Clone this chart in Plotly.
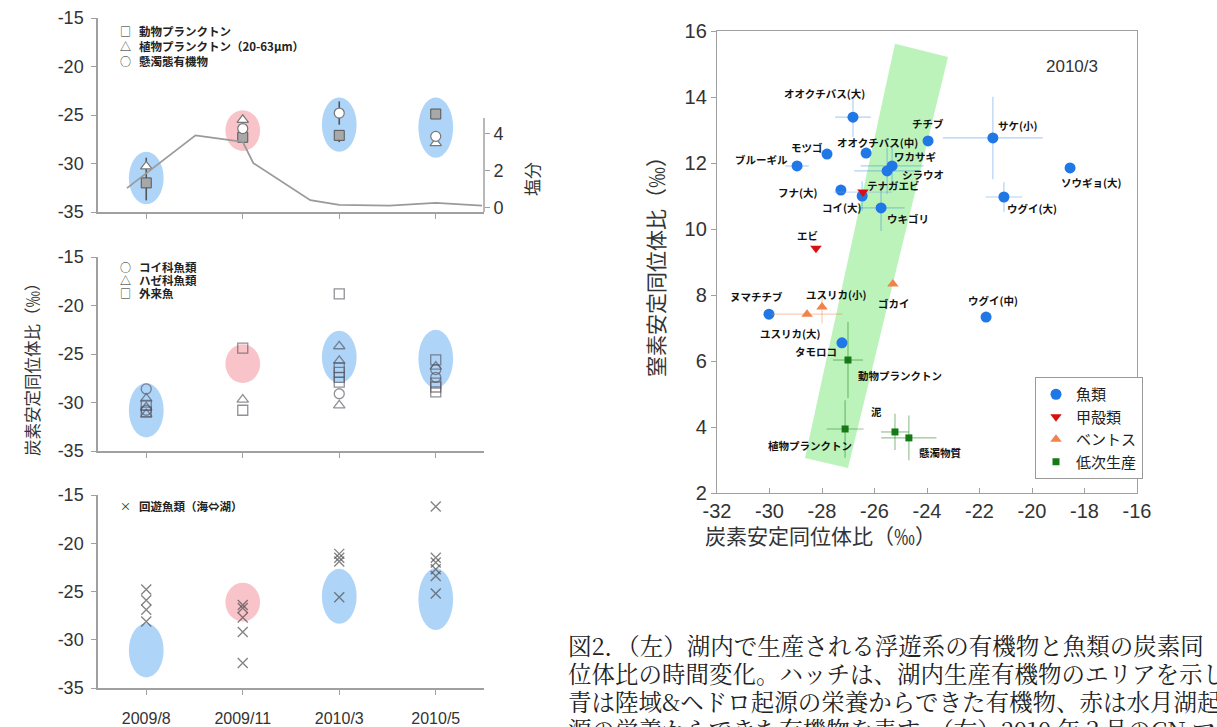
import plotly.graph_objects as go

W, H = 1217, 727

# ---------------- data: left panels (time series of carbon isotope) ----------------
months = ["2009/8", "2009/11", "2010/3", "2010/5"]

zoo_month = ["2009/8", "2009/11", "2010/3", "2010/5"]
zoo_val = [-32.0, -27.3, -27.1, -24.9]
zoo_err_up = [2.6, 0.0, 0.0, 0.0]
zoo_err_down = [1.8, 0.0, 0.7, 0.0]

phyto_month = ["2009/8", "2009/11", "2010/5"]
phyto_val = [-30.3, -25.5, -27.9]

pom_month = ["2009/11", "2010/3", "2010/5"]
pom_val = [-26.4, -24.8, -27.2]
pom_err = [0.0, 1.2, 0.0]

sal_time = [0.80, 1.51, 2.00, 2.11, 2.70, 3.00, 3.52, 4.00, 4.48]
sal_val = [1.05, 3.9, 3.55, 2.4, 0.4, 0.15, 0.1, 0.25, 0.1]

cyp_month = ["2009/8", "2009/8", "2010/3", "2010/5", "2010/5"]
cyp_val = [-28.6, -30.8, -29.1, -26.6, -27.4]
goby_month = ["2009/8", "2009/8", "2009/8", "2009/11", "2010/3", "2010/3", "2010/3", "2010/5"]
goby_val = [-29.6, -30.5, -31.2, -29.7, -24.2, -25.7, -30.3, -26.3]
alien_month = ["2009/8", "2009/8", "2009/11", "2009/11", "2010/3", "2010/3", "2010/3",
               "2010/3", "2010/3", "2010/5", "2010/5", "2010/5", "2010/5"]
alien_val = [-30.3, -31.0, -24.4, -30.8, -18.8, -26.4, -26.9, -27.4, -27.9, -25.6, -28.0, -28.4, -28.9]

mig_month = ["2009/8"] * 4 + ["2009/11"] * 5 + ["2010/3"] * 4 + ["2010/5"] * 6
mig_val = [-24.8, -25.9, -26.9, -28.1,
           -26.4, -26.7, -27.7, -29.2, -32.4,
           -21.1, -21.5, -21.9, -25.6,
           -16.2, -21.5, -22.0, -22.7, -23.4, -25.2]

hatch_kind = ["land", "lake", "land", "land"]
hatch_top_center = [-31.5, -26.6, -26.0, -26.3]
hatch_top_half = [2.7, 2.1, 2.8, 3.1]
hatch_mid_center = [-30.8, -26.0, -25.3, -25.5]
hatch_mid_half = [2.8, 2.0, 2.7, 3.0]
hatch_bot_center = [-31.1, -26.1, -25.5, -25.8]
hatch_bot_half = [2.8, 2.0, 2.85, 3.2]

left_ticks = [-35, -30, -25, -20, -15]
sal_ticks = [0, 2, 4]

# ---------------- data: right panel (CN map 2010/3) ----------------
fish_name = ["オオクチバス(大)", "モツゴ", "オオクチバス(中)", "ブルーギル", "チチブ", "サケ(小)",
             "ワカサギ", "シラウオ", "フナ(大)", "コイ(大)", "ウキゴリ", "ソウギョ(大)",
             "ウグイ(大)", "ヌマチチブ", "ウグイ(中)", "タモロコ"]
fish_c = [-26.82, -27.81, -26.32, -28.95, -23.96, -21.49, -25.33, -25.52, -27.28, -26.47,
          -25.75, -18.55, -21.07, -30.02, -21.75, -27.24]
fish_n = [13.39, 12.27, 12.30, 11.91, 12.67, 12.76, 11.91, 11.76, 11.18, 11.00,
          10.64, 11.85, 10.97, 7.42, 7.33, 6.55]
fish_cerr = [0.68, 0, 0, 0.45, 0, 1.9, 1.2, 1.25, 0, 0, 0.9, 0, 0.7, 0, 0, 0]
fish_nerr = [0.6, 0, 0, 0, 0, 1.25, 0.6, 0.7, 0, 0.45, 0.7, 0, 0.45, 0, 0, 0]

crus_name = ["テナガエビ", "エビ"]
crus_c = [-26.44, -28.23]
crus_n = [11.12, 9.42]
crus_cerr = [1.1, 0]
crus_nerr = [0, 0]

benth_name = ["ゴカイ", "ユスリカ(小)", "ユスリカ(大)"]
benth_c = [-25.30, -28.00, -28.57]
benth_n = [8.33, 7.64, 7.42]
benth_cerr = [0, 0, 1.35]
benth_nerr = [0, 0.5, 0]

low_name = ["動物プランクトン", "植物プランクトン", "泥", "懸濁物質"]
low_c = [-27.01, -27.12, -25.22, -24.69]
low_n = [6.03, 3.94, 3.85, 3.67]
low_cerr = [0.57, 0.7, 0.53, 1.05]
low_nerr = [1.15, 0.87, 0.55, 0.68]

band_c = [-28.65, -27.01, -23.20, -25.22]
band_n = [3.06, 2.76, 15.21, 15.61]

c_ticks = list(range(-32, -15, 2))
n_ticks = list(range(2, 17, 2))

# ---------------- layout helpers ----------------
def px(v):
    return v / W


def py(v):
    return 1 - v / H


pos = {m: i + 1 for i, m in enumerate(months)}
NARROW = "Liberation Sans Narrow, Arial Narrow, Liberation Sans, Arial, sans-serif"
JP = "Noto Sans CJK JP, sans-serif"
GRAY = "#a0a0a0"

fig = go.Figure()

# --- top panel ---
fig.add_trace(go.Scatter(
    x=sal_time, y=sal_val, xaxis="x", yaxis="y2",
    mode="lines", line=dict(color="#9a9a9a", width=1.8), showlegend=False, hoverinfo="skip"))
fig.add_trace(go.Scatter(
    x=[pos[m] for m in zoo_month], y=zoo_val, xaxis="x", yaxis="y", mode="markers",
    marker=dict(symbol="square", size=10, color="#a8a8a8", line=dict(color="#555", width=1)),
    error_y=dict(type="data", symmetric=False, array=zoo_err_up, arrayminus=zoo_err_down,
                 color="#555", thickness=1.6, width=0),
    showlegend=False))
fig.add_trace(go.Scatter(
    x=[pos[m] for m in phyto_month], y=phyto_val, xaxis="x", yaxis="y", mode="markers",
    marker=dict(symbol="triangle-up", size=10, color="white", line=dict(color="#777", width=1.2)),
    showlegend=False))
fig.add_trace(go.Scatter(
    x=[pos[m] for m in pom_month], y=pom_val, xaxis="x", yaxis="y", mode="markers",
    marker=dict(symbol="circle", size=10, color="white", line=dict(color="#777", width=1.2)),
    error_y=dict(type="data", array=pom_err, color="#555", thickness=1.6, width=0),
    showlegend=False))

# --- middle panel ---
for mlist, vals, sym in [(cyp_month, cyp_val, "circle-open"),
                         (goby_month, goby_val, "triangle-up-open"),
                         (alien_month, alien_val, "square-open")]:
    fig.add_trace(go.Scatter(
        x=[pos[m] for m in mlist], y=vals, xaxis="x2", yaxis="y3", mode="markers",
        marker=dict(symbol=sym, size=10, color="rgba(85,85,95,0.65)", line=dict(width=1.3)),
        showlegend=False))

# --- bottom panel ---
fig.add_trace(go.Scatter(
    x=[pos[m] for m in mig_month], y=mig_val, xaxis="x3", yaxis="y4", mode="markers",
    marker=dict(symbol="x-thin-open", size=10, color="rgba(80,80,80,0.7)", line=dict(width=1.4)),
    showlegend=False))

# --- right panel ---
groups = [
    ("魚類", fish_name, fish_c, fish_n, fish_cerr, fish_nerr, "circle", 11, "#1f78e6", "rgba(31,120,230,0.35)"),
    ("甲殻類", crus_name, crus_c, crus_n, crus_cerr, crus_nerr, "triangle-down", 10, "#d81010", "rgba(120,150,230,0.35)"),
    ("ベントス", benth_name, benth_c, benth_n, benth_cerr, benth_nerr, "triangle-up", 10, "#f0824a", "rgba(240,130,74,0.4)"),
    ("低次生産", low_name, low_c, low_n, low_cerr, low_nerr, "square", 7, "#157a15", "rgba(21,122,21,0.45)"),
]
for gname, names, cs, ns, ce, ne, sym, size, col, ecol in groups:
    fig.add_trace(go.Scatter(
        x=cs, y=ns, xaxis="x4", yaxis="y5", mode="markers", name=gname, text=names,
        marker=dict(symbol=sym, size=size, color=col, line=dict(width=0)),
        error_x=dict(type="data", array=ce, color=ecol, thickness=1.2, width=0),
        error_y=dict(type="data", array=ne, color=ecol, thickness=1.2, width=0),
        showlegend=True))

# label offsets (pixels, right / down)
label_off = {
    "オオクチバス(大)": (-28, -24), "モツゴ": (-20, -7), "オオクチバス(中)": (11, -11),
    "ブルーギル": (-36, -6), "チチブ": (0, -17), "サケ(小)": (25, -12), "ワカサギ": (23, -9),
    "シラウオ": (36, 4), "テナガエビ": (31, -7), "フナ(大)": (-43, 2), "コイ(大)": (-21, 12),
    "ウキゴリ": (27, 11), "ソウギョ(大)": (21, 15), "ウグイ(大)": (28, 12), "エビ": (-8, -13),
    "ゴカイ": (1, 19), "ヌマチチブ": (-12, -18), "ユスリカ(小)": (14, -12), "ユスリカ(大)": (-17, 19),
    "ウグイ(中)": (7, -17), "タモロコ": (-26, 9), "動物プランクトン": (52, 15),
    "植物プランクトン": (-35, 17), "泥": (-18, -20), "懸濁物質": (32, 15),
}

annotations = []
for gname, names, cs, ns, ce, ne, sym, size, col, ecol in groups:
    for nm, c, n in zip(names, cs, ns):
        dx, dy = label_off[nm]
        annotations.append(dict(
            x=c, y=n, xref="x4", yref="y5", text=nm, showarrow=False, xshift=dx, yshift=-dy,
            font=dict(family=JP, size=10.5, color="#111", weight="bold")))

# ---------------- shapes ----------------
shapes = []
hatch_fill = {"land": "rgba(160,204,247,0.85)", "lake": "rgba(247,186,192,0.85)"}
for xr, yr, centers, halves in [("x", "y", hatch_top_center, hatch_top_half),
                                ("x2", "y3", hatch_mid_center, hatch_mid_half),
                                ("x3", "y4", hatch_bot_center, hatch_bot_half)]:
    for m, kind, c, h in zip(months, hatch_kind, centers, halves):
        shapes.append(dict(type="circle", xref=xr, yref=yr, layer="below",
                           x0=pos[m] - 0.18, x1=pos[m] + 0.18, y0=c - h, y1=c + h,
                           fillcolor=hatch_fill[kind], line=dict(width=0)))

band_path = "M " + " L ".join(f"{c},{n}" for c, n in zip(band_c, band_n)) + " Z"
shapes.append(dict(type="path", path=band_path, xref="x4", yref="y5", layer="below",
                   fillcolor="rgba(150,236,150,0.65)", line=dict(width=0)))

# salinity axis line (only lower part)
shapes.append(dict(type="line", xref="paper", yref="y2", x0=px(484), x1=px(484), y0=-0.24, y1=4.84,
                   line=dict(color=GRAY, width=1.5)))

# ---------------- text annotations ----------------
legend_font = dict(family=JP, size=11.5, color="#222", weight="bold")
for sym, txt, yy in [("□", "動物プランクトン", 31), ("△", "植物プランクトン（20-63μm）", 46), ("○", "懸濁態有機物", 61),
                     ("○", "コイ科魚類", 267), ("△", "ハゼ科魚類", 280), ("□", "外来魚", 293),
                     ("×", "回遊魚類（海⇔湖）", 506)]:
    annotations.append(dict(x=px(125), y=py(yy), xref="paper", yref="paper", text=sym, showarrow=False,
                            xanchor="center", yanchor="middle", font=dict(family=JP, size=11, color="#222")))
    annotations.append(dict(x=px(137), y=py(yy), xref="paper", yref="paper", text=txt, showarrow=False,
                            xanchor="left", yanchor="middle", font=legend_font))

annotations.append(dict(x=px(18), y=py(365), xref="paper", yref="paper", text="炭素安定同位体比（‰）",
                        textangle=-90, showarrow=False, font=dict(family=JP, size=16.5, color="#333")))
annotations.append(dict(x=px(531), y=py(160), xref="paper", yref="paper", text="塩分",
                        textangle=-90, showarrow=False, font=dict(family=JP, size=17, color="#333")))
annotations.append(dict(x=px(655), y=py(262), xref="paper", yref="paper", text="窒素安定同位体比（‰）",
                        textangle=-90, showarrow=False, font=dict(family=JP, size=21, color="#333")))
annotations.append(dict(x=px(938), y=py(552), xref="paper", yref="paper", text="炭素安定同位体比（‰）",
                        showarrow=False, font=dict(family=JP, size=21, color="#333")))
annotations.append(dict(x=px(1100), y=py(55), xref="paper", yref="paper", text="2010/3",
                        showarrow=False, font=dict(family=NARROW, size=17, color="#333")))

caption = ["図2．（左）湖内で生産される浮遊系の有機物と魚類の炭素同",
           "位体比の時間変化。ハッチは、湖内生産有機物のエリアを示し、",
           "青は陸域&ヘドロ起源の栄養からできた有機物、赤は水月湖起",
           "源の栄養からできた有機物を表す。（右）2010 年３月のCN マッ"]
for i, line in enumerate(caption):
    annotations.append(dict(x=px(566), y=py(645 + 28 * i), xref="paper", yref="paper", text=line,
                            showarrow=False, xanchor="left", yanchor="middle",
                            font=dict(family="Noto Serif CJK JP, " + JP, size=23.5, color="#222")))

# ---------------- axes ----------------
tick_font_left = dict(family=NARROW, size=18, color="#333")
tick_font_right = dict(family=NARROW, size=20, color="#333")


def left_x(anchor, labels):
    return dict(domain=[px(98), px(484)], anchor=anchor, range=[0.5, 4.5], tickvals=[1, 2, 3, 4],
                ticktext=months, showticklabels=labels, showline=True, linecolor=GRAY, linewidth=1.5,
                ticks="outside", ticklen=5, tickcolor=GRAY, showgrid=False, zeroline=False,
                tickfont=dict(family=NARROW, size=16, color="#333"), ticklabelstandoff=10)


def left_y(anchor, top, bottom):
    return dict(domain=[py(bottom), py(top)], anchor=anchor, range=[-35, -15],
                tickvals=left_ticks, ticktext=[str(t) for t in left_ticks],
                showline=True, linecolor=GRAY, linewidth=1.5,
                ticks="outside", ticklen=5, tickcolor=GRAY, showgrid=False, zeroline=False,
                tickfont=tick_font_left, ticklabelstandoff=4)


fig.update_layout(
    width=W, height=H, margin=dict(l=0, r=0, t=0, b=0, autoexpand=False),
    paper_bgcolor="white", plot_bgcolor="rgba(0,0,0,0)",
    xaxis=left_x("y", False),
    yaxis=left_y("x", 18, 212),
    yaxis2=dict(overlaying="y", side="right", anchor="x", range=[-0.24, 10.24],
                tickvals=sal_ticks, ticktext=[str(t) for t in sal_ticks],
                showline=False, ticks="outside", ticklen=5, tickcolor=GRAY, showgrid=False,
                zeroline=False, tickfont=tick_font_left),
    xaxis2=left_x("y3", False),
    yaxis3=left_y("x2", 257, 451),
    xaxis3=left_x("y4", True),
    yaxis4=left_y("x3", 495, 688),
    xaxis4=dict(domain=[px(717), px(1137)], anchor="y5", range=[-32, -16],
                tickvals=c_ticks, ticktext=[str(t) for t in c_ticks],
                showline=True, mirror=True, linecolor=GRAY, linewidth=1.3, ticks="inside",
                ticklen=5, tickcolor=GRAY, showgrid=False, zeroline=False, tickfont=tick_font_right),
    yaxis5=dict(domain=[py(493), py(31)], anchor="x4", range=[2, 16],
                tickvals=n_ticks, ticktext=[str(t) for t in n_ticks],
                showline=True, mirror=True, linecolor=GRAY, linewidth=1.3, ticks="outside",
                ticklen=5, tickcolor=GRAY, showgrid=False, zeroline=False, tickfont=tick_font_right),
    legend=dict(x=px(1035), y=py(377), xanchor="left", yanchor="top", bgcolor="white",
                bordercolor="#999", borderwidth=1, font=dict(family=JP, size=15, color="#222"),
                itemwidth=30, tracegroupgap=0),
    shapes=shapes,
    annotations=annotations,
)

fig.write_html("out.html", config={"displayModeBar": False},
               post_script="document.body.style.margin='0px';document.body.style.overflow='hidden';")
